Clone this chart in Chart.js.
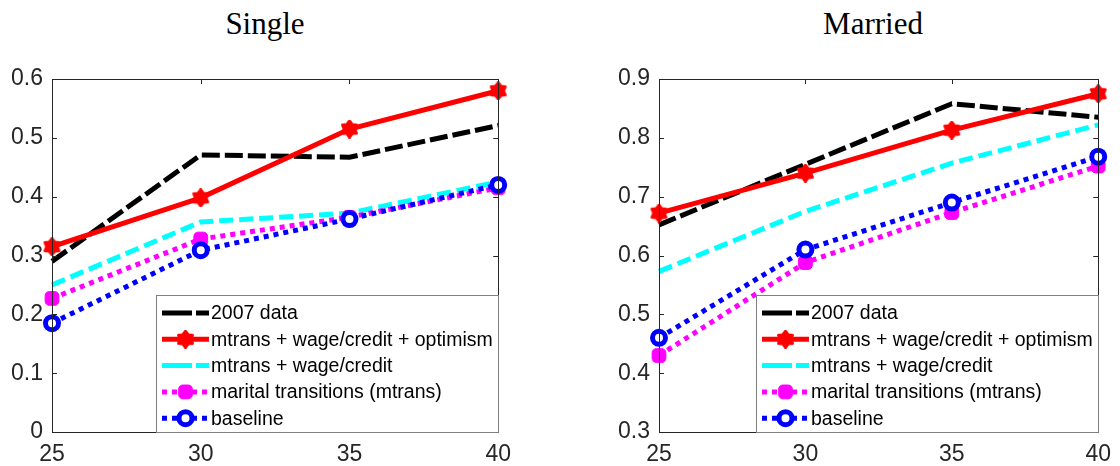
<!DOCTYPE html>
<html>
<head>
<meta charset="utf-8">
<script src="https://cdn.jsdelivr.net/npm/chart.js@4/dist/chart.umd.min.js"></script>
<style>
    body { margin: 0; background: #fff; width: 1120px; height: 466px; position: relative; overflow: hidden; }
    canvas { position: absolute; top: 0; }
    .title { position: absolute; top: 6px; font-family: 'Liberation Serif', 'DejaVu Serif', serif; font-size: 31px; color: #000; transform: translateX(-50%); white-space: nowrap; }
</style>
</head>
<body>
<div class="title" style="left:265px">Single</div>
<div class="title" style="left:873px">Married</div>
<canvas id="singleChart" width="520" height="466" style="left:0px"></canvas>
<canvas id="marriedChart" width="520" height="466" style="left:600px"></canvas>
<script>
const ages = ['25', '30', '35', '40'];
const seriesNames = ['2007 data', 'mtrans + wage/credit + optimism', 'mtrans + wage/credit', 'marital transitions (mtrans)', 'baseline'];

const singleData = [0.290, 0.471, 0.467, 0.521];
const singleOptimism = [0.315, 0.398, 0.515, 0.580];
const singleWageCredit = [0.250, 0.357, 0.372, 0.425];
const singleMtrans = [0.227, 0.328, 0.365, 0.415];
const singleBaseline = [0.185, 0.309, 0.362, 0.420];

const marriedData = [0.652, 0.755, 0.858, 0.835];
const marriedOptimism = [0.672, 0.740, 0.813, 0.875];
const marriedWageCredit = [0.573, 0.675, 0.757, 0.822];
const marriedMtrans = [0.430, 0.588, 0.673, 0.752];
const marriedBaseline = [0.460, 0.610, 0.690, 0.768];

const singleYTicks = [0, 0.1, 0.2, 0.3, 0.4, 0.5, 0.6];
const marriedYTicks = [0.3, 0.4, 0.5, 0.6, 0.7, 0.8, 0.9];

// MATLAB-ish hexagram marker
function makeHexagram(size, color) {
    const c = document.createElement('canvas');
    c.width = size; c.height = size;
    const g = c.getContext('2d');
    const cx = size / 2, cy = size / 2, ro = size / 2 - 1.5, ri = ro * 0.66;
    g.beginPath();
    for (let k = 0; k < 12; k++) {
        const r = k % 2 === 0 ? ro : ri;
        const a = -Math.PI / 2 + k * Math.PI / 6;
        const px = cx + r * Math.cos(a), py = cy + r * Math.sin(a);
        k === 0 ? g.moveTo(px, py) : g.lineTo(px, py);
    }
    g.closePath();
    g.fillStyle = color;
    g.strokeStyle = color;
    g.lineWidth = 3;
    g.lineJoin = 'round';
    g.fill();
    g.stroke();
    return c;
}
const hexRed = makeHexagram(19, '#ff0000');

function buildDatasets(vals) {
    const styles = [
        { borderColor: '#000000', borderDash: [18, 5], pointRadius: 0 },
        { borderColor: '#ff0000', borderDash: [], pointStyle: hexRed, pointRadius: 9 },
        { borderColor: '#00ffff', borderDash: [14, 6], pointRadius: 0 },
        { borderColor: '#ff00ff', borderDash: [5, 5], pointStyle: 'rectRounded', pointRadius: 8, pointBackgroundColor: '#ff00ff', pointBorderWidth: 1 },
        { borderColor: '#0000ff', borderDash: [5, 5], pointStyle: 'circle', pointRadius: 6.5, pointBackgroundColor: '#ffffff', pointBorderWidth: 5 }
    ];
    return vals.map((v, i) => Object.assign({
        label: seriesNames[i],
        data: v,
        borderWidth: 5,
        tension: 0,
        fill: false,
        clip: false,
        order: 4 - i,
        pointBorderColor: styles[i].borderColor,
        pointBackgroundColor: styles[i].borderColor,
        pointBorderWidth: 1
    }, styles[i]));
}

const frameAndTicks = {
    id: 'frameAndTicks',
    afterDraw(chart) {
        const { ctx, chartArea: a } = chart;
        const xs = chart.scales.x, ys = chart.scales.y;
        ctx.save();
        ctx.strokeStyle = '#262626';
        ctx.lineWidth = 1;
        ctx.strokeRect(Math.round(a.left) + 0.5, Math.round(a.top) + 0.5, Math.round(a.right - a.left), Math.round(a.bottom - a.top));
        ctx.beginPath();
        xs.ticks.forEach((t, i) => {
            const px = Math.round(xs.getPixelForTick(i)) + 0.5;
            ctx.moveTo(px, a.bottom); ctx.lineTo(px, a.bottom - 5);
            ctx.moveTo(px, a.top); ctx.lineTo(px, a.top + 5);
        });
        ys.ticks.forEach(t => {
            const py = Math.round(ys.getPixelForValue(t.value)) + 0.5;
            ctx.moveTo(a.left, py); ctx.lineTo(a.left + 5, py);
            ctx.moveTo(a.right, py); ctx.lineTo(a.right - 5, py);
        });
        ctx.stroke();
        ctx.restore();
    }
};

const legendBox = {
    id: 'legendBox',
    afterDraw(chart, args, opts) {
        const { ctx, chartArea: a } = chart;
        const w = opts.width, h = opts.height;
        const left = Math.round(a.right - w), top = Math.round(a.bottom - h);
        ctx.save();
        ctx.fillStyle = '#ffffff';
        ctx.fillRect(left, top, w, h);
        ctx.strokeStyle = '#7f7f7f';
        ctx.lineWidth = 1;
        ctx.strokeRect(left + 0.5, top + 0.5, w, h);
        chart.data.datasets.forEach((ds, i) => {
            const y = top + 18 + i * 26.3;
            const x0 = left + 6, x1 = left + 53;
            ctx.setLineDash(ds.borderDash && ds.borderDash.length ? [30, 4] : []);
            if (ds.borderDash && ds.borderDash[0] === 5) ctx.setLineDash([5, 5]);
            ctx.strokeStyle = ds.borderColor;
            ctx.lineWidth = ds.borderWidth;
            ctx.beginPath();
            ctx.moveTo(x0, y); ctx.lineTo(x1, y);
            ctx.stroke();
            ctx.setLineDash([]);
            if (ds.pointRadius > 0) {
                ctx.fillStyle = ds.pointBackgroundColor;
                ctx.strokeStyle = ds.pointBorderColor;
                ctx.lineWidth = ds.pointBorderWidth;
                Chart.helpers.drawPoint(ctx, { pointStyle: ds.pointStyle, radius: ds.pointRadius, borderWidth: ds.pointBorderWidth, rotation: 0 }, (x0 + x1) / 2, y);
            }
            ctx.fillStyle = '#000000';
            ctx.font = '19.5px "Liberation Sans", Arial, sans-serif';
            ctx.textBaseline = 'middle';
            ctx.textAlign = 'left';
            ctx.fillText(ds.label, left + 55, y + 1);
        });
        ctx.restore();
    }
};

function makeChart(id, vals, yTicks, yAxisWidth, rightPad) {
    const ctx = document.getElementById(id).getContext('2d');
    return new Chart(ctx, {
        type: 'line',
        data: { labels: ages, datasets: buildDatasets(vals) },
        plugins: [frameAndTicks, legendBox],
        options: {
            responsive: false,
            animation: false,
            devicePixelRatio: 1,
            layout: { padding: { top: 79, right: rightPad, left: 0, bottom: 0 } },
            plugins: {
                legend: { display: false },
                tooltip: { enabled: false },
                legendBox: { width: 342, height: 137 }
            },
            scales: {
                x: {
                    type: 'category',
                    offset: false,
                    grid: { display: false, drawTicks: false },
                    border: { display: false },
                    ticks: { color: '#262626', padding: 9, maxRotation: 0, font: { family: '"Liberation Sans", Arial, sans-serif', size: 23 } },
                    afterFit(scale) { scale.height = 34; }
                },
                y: {
                    type: 'linear',
                    min: yTicks[0],
                    max: yTicks[yTicks.length - 1],
                    grid: { display: false, drawTicks: false },
                    border: { display: false },
                    afterBuildTicks(scale) { scale.ticks = yTicks.map(v => ({ value: v })); },
                    ticks: { color: '#262626', padding: 9, font: { family: '"Liberation Sans", Arial, sans-serif', size: 23 }, callback: v => String(v) },
                    afterFit(scale) { scale.width = yAxisWidth; }
                }
            }
        }
    });
}

makeChart('singleChart', [singleData, singleOptimism, singleWageCredit, singleMtrans, singleBaseline], singleYTicks, 52, 21);
makeChart('marriedChart', [marriedData, marriedOptimism, marriedWageCredit, marriedMtrans, marriedBaseline], marriedYTicks, 59, 14);
</script>
</body>
</html>
